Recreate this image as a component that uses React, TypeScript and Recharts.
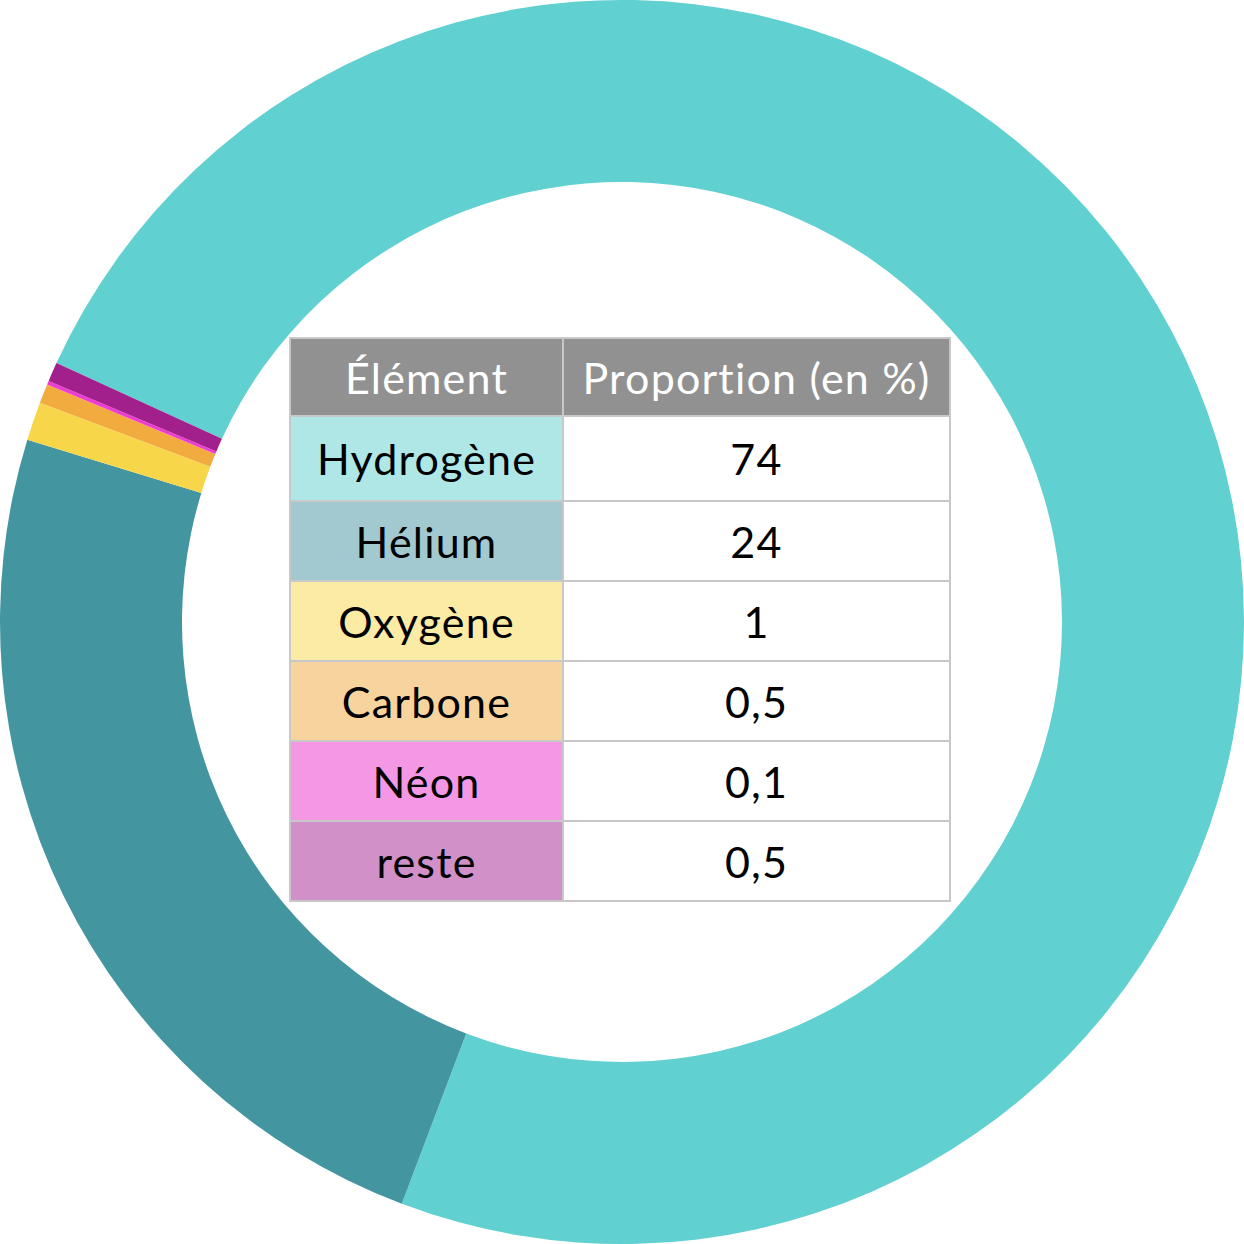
import { PieChart, Pie, Cell } from "recharts";

const elements = ["Hydrogène", "Hélium", "Oxygène", "Carbone", "Néon", "reste"];
const proportions = [74, 24, 1, 0.5, 0.1, 0.5];
const proportionLabels = ["74", "24", "1", "0,5", "0,1", "0,5"];
const sliceColors = ["#61D0D0", "#4396A0", "#F8D64A", "#F2AB3F", "#EE3CD2", "#A2208C"];
const cellColors = ["#AEE7E6", "#A2C9CF", "#FCEBA5", "#F7D49E", "#F497E4", "#D191C8"];

const data = elements.map((name, i) => ({ name, value: proportions[i] }));

const font = "Lato, 'Noto Sans', sans-serif";
const border = "2px solid #C8C8C8";

export default function App() {
  return (
    <div
      style={{
        position: "absolute",
        left: 0,
        top: 0,
        width: 1244,
        height: 1244,
        background: "#fff",
      }}
    >
      <PieChart width={1244} height={1244} margin={{ top: 0, right: 0, bottom: 0, left: 0 }}>
        <Pie
          data={data}
          dataKey="value"
          cx={622}
          cy={622}
          innerRadius={440}
          outerRadius={622}
          startAngle={-204.6}
          endAngle={-564.6}
          stroke="none"
          isAnimationActive={false}
        >
          {data.map((d, i) => (
            <Cell key={d.name} fill={sliceColors[i]} />
          ))}
        </Pie>
      </PieChart>

      <table
        style={{
          position: "absolute",
          left: 289,
          top: 337,
          borderCollapse: "collapse",
          fontFamily: font,
          fontSize: 43,
          letterSpacing: 1.2,
          textAlign: "center",
          background: "#fff",
        }}
      >
        <thead>
          <tr style={{ height: 78 }}>
            <th
              style={{
                width: 271,
                background: "#919191",
                color: "#fff",
                fontWeight: 400,
                border,
                padding: 0,
              }}
            >
              Élément
            </th>
            <th
              style={{
                width: 385,
                background: "#919191",
                color: "#fff",
                fontWeight: 400,
                border,
                padding: 0,
              }}
            >
              Proportion (en %)
            </th>
          </tr>
        </thead>
        <tbody>
          {elements.map((name, i) => (
            <tr key={name} style={{ height: i === 0 ? 85 : 80 }}>
              <td style={{ background: cellColors[i], border, padding: 0, color: "#000" }}>
                {name}
              </td>
              <td style={{ border, padding: 0, color: "#000" }}>{proportionLabels[i]}</td>
            </tr>
          ))}
        </tbody>
      </table>
    </div>
  );
}
